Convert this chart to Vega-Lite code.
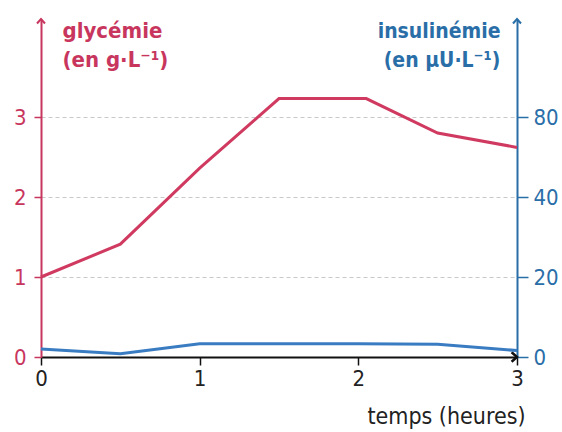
{
  "$schema": "https://vega.github.io/schema/vega-lite/v6.json",
  "width": 476,
  "height": 338,
  "padding": {"left": 41, "top": 19, "right": 45, "bottom": 75},
  "autosize": {"type": "none"},
  "background": "white",
  "config": {
    "view": {"stroke": null},
    "font": "'DejaVu Sans Condensed', 'Liberation Sans Narrow', Roboto, sans-serif"
  },
  "datasets": {
    "glycemie": [
      {"t": 0, "v": 1.0},
      {"t": 0.5, "v": 1.41},
      {"t": 1, "v": 2.36},
      {"t": 1.5, "v": 3.23},
      {"t": 2.05, "v": 3.23},
      {"t": 2.5, "v": 2.8},
      {"t": 3, "v": 2.62}
    ],
    "insulinemie": [
      {"t": 0, "v": 2.0},
      {"t": 0.5, "v": 0.8},
      {"t": 1, "v": 3.3},
      {"t": 1.5, "v": 3.3},
      {"t": 2, "v": 3.3},
      {"t": 2.5, "v": 3.2},
      {"t": 3, "v": 1.6}
    ]
  },
  "layer": [
    {
      "encoding": {
        "x": {
          "field": "t", "type": "quantitative",
          "scale": {"domain": [0, 3], "nice": false, "zero": false},
          "axis": {
            "values": [0, 1, 2, 3], "grid": false,
            "domainColor": "#111", "domainWidth": 2,
            "tickColor": "#111", "tickWidth": 1.5, "tickSize": 8,
            "labelFontSize": 22, "labelColor": "#222", "labelPadding": 3, "labelFlush": false,
            "title": "temps (heures)", "titleFontSize": 23, "titleFontWeight": "normal",
            "titleColor": "#222", "titleAlign": "right", "titleAnchor": null,
            "titleX": 484, "titleY": 66, "titleBaseline": "alphabetic"
          }
        },
        "y": {
          "field": "v", "type": "quantitative",
          "scale": {"domain": [0, 4.225], "nice": false},
          "axis": {
            "orient": "left", "values": [0, 1, 2, 3], "format": "d",
            "domainColor": "#c8365e", "domainWidth": 2,
            "tickColor": "#c8365e", "tickSize": 7, "tickWidth": 1.5,
            "labelColor": "#c8365e", "labelFontSize": 22, "labelPadding": 8,
            "grid": true, "gridDash": [4, 3], "gridColor": "#c8c8c8", "gridWidth": 1,
            "title": ["glycémie", "(en g·L⁻¹)"],
            "titleColor": "#c8365e", "titleFontSize": 22, "titleFontWeight": "bold",
            "titleAngle": 0, "titleAlign": "left", "titleBaseline": "alphabetic",
            "titleAnchor": null, "titleX": 21, "titleY": 18, "titleLineHeight": 29
          }
        }
      },
      "layer": [
        {
          "data": {"name": "glycemie"},
          "mark": {"type": "line", "color": "#d03a60", "strokeWidth": 3}
        },
        {
          "data": {"values": [{"t": 0, "v": 4.225}]},
          "mark": {"type": "point", "shape": "M-0.8,0.9L0,0L0.8,0.9", "filled": false, "stroke": "#c8365e", "strokeWidth": 2, "size": 100, "opacity": 1}
        },
        {
          "data": {"values": [{"t": 3, "v": 0}]},
          "mark": {"type": "point", "shape": "M-0.9,-0.8L0,0L-0.9,0.8", "filled": false, "stroke": "#111", "strokeWidth": 2.5, "size": 144, "opacity": 1}
        }
      ]
    },
    {
      "encoding": {
        "x": {
          "field": "t", "type": "quantitative",
          "scale": {"domain": [0, 3], "nice": false, "zero": false},
          "axis": {
            "values": [0, 1, 2, 3], "grid": false,
            "domainColor": "#111", "domainWidth": 2,
            "tickColor": "#111", "tickWidth": 1.5, "tickSize": 8,
            "labelFontSize": 22, "labelColor": "#222", "labelPadding": 3, "labelFlush": false,
            "title": "temps (heures)", "titleFontSize": 23, "titleFontWeight": "normal",
            "titleColor": "#222", "titleAlign": "right", "titleAnchor": null,
            "titleX": 484, "titleY": 66, "titleBaseline": "alphabetic"
          }
        },
        "y": {
          "field": "v", "type": "quantitative",
          "scale": {"domain": [0, 84.5], "nice": false},
          "axis": {
            "orient": "right", "values": [0, 20, 40, 60],
            "labelExpr": "datum.value == 60 ? '80' : datum.label",
            "domainColor": "#2a6ea8", "domainWidth": 2,
            "tickColor": "#2a6ea8", "tickSize": 11, "tickWidth": 1.5,
            "labelColor": "#2a6ea8", "labelFontSize": 22, "labelPadding": 5,
            "grid": false,
            "title": ["insulinémie", "(en µU·L⁻¹)"],
            "titleColor": "#2a6ea8", "titleFontSize": 21, "titleFontWeight": "bold",
            "titleAngle": 0, "titleAlign": "right", "titleBaseline": "alphabetic",
            "titleAnchor": null, "titleX": -17, "titleY": 18, "titleLineHeight": 29
          }
        }
      },
      "layer": [
        {
          "data": {"name": "insulinemie"},
          "mark": {"type": "line", "color": "#3a7cc2", "strokeWidth": 3}
        },
        {
          "data": {"values": [{"t": 3, "v": 84.5}]},
          "mark": {"type": "point", "shape": "M-0.8,0.9L0,0L0.8,0.9", "filled": false, "stroke": "#2a6ea8", "strokeWidth": 2, "size": 100, "opacity": 1}
        }
      ]
    }
  ],
  "resolve": {"scale": {"y": "independent"}}
}
